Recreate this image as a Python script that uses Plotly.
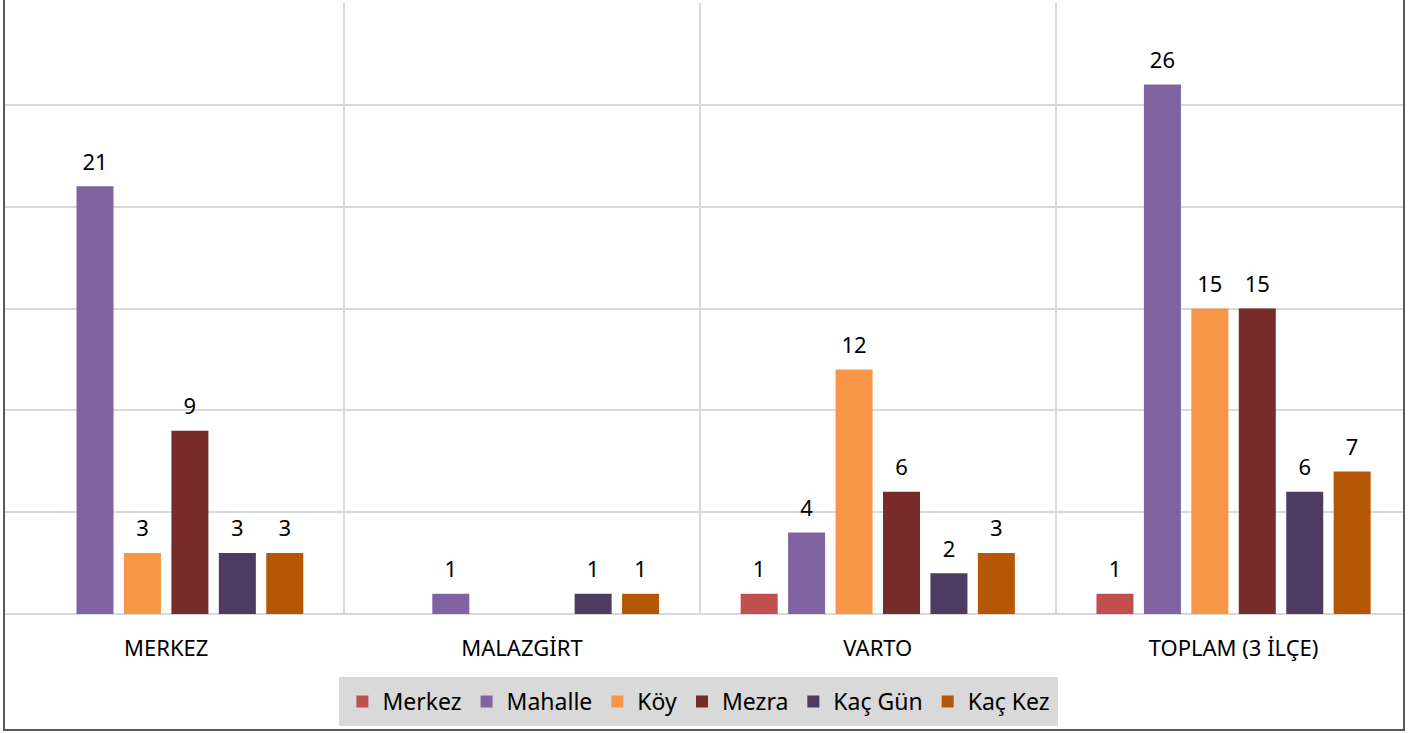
import plotly.graph_objects as go

# kategoriler ve seriler
bolgeler = ['MERKEZ', 'MALAZGİRT', 'VARTO', 'TOPLAM (3 İLÇE)']
seriler = ['Merkez', 'Mahalle', 'Köy', 'Mezra', 'Kaç Gün', 'Kaç Kez']

merkez = [None, None, 1, 1]
mahalle = [21, 1, 4, 26]
koy = [3, None, 12, 15]
mezra = [9, None, 6, 15]
kac_gun = [3, 1, 2, 6]
kac_kez = [3, 1, 3, 7]

renkler = ['#C0504D', '#8064A2', '#F79646', '#772C2A', '#4D3B62', '#B65708']

FONT = 'Noto Sans'
degerler = [merkez, mahalle, koy, mezra, kac_gun, kac_kez]

fig = go.Figure()

for i, (ad, vals, renk) in enumerate(zip(seriler, degerler, renkler)):
    fig.add_trace(go.Bar(
        name=ad, x=bolgeler, y=vals,
        marker=dict(color=renk, line=dict(width=0)),
        offsetgroup=str(i),
        hoverinfo='skip',
    ))

# veri etiketleri (çubukların biraz üstünde)
for i, vals in enumerate(degerler):
    fig.add_trace(go.Scatter(
        x=bolgeler, y=vals,
        mode='markers+text',
        text=['' if v is None else str(v) for v in vals],
        textposition='top center',
        textfont=dict(family=FONT, size=22, color='#000000'),
        marker=dict(size=16, color='rgba(0,0,0,0)'),
        offsetgroup=str(i),
        showlegend=False,
        hoverinfo='skip',
        cliponaxis=False,
    ))

fig.update_layout(
    width=1413, height=733,
    margin=dict(l=5, r=9, t=3, b=119),
    paper_bgcolor='white', plot_bgcolor='white',
    barmode='group', bargap=0.2, bargroupgap=0.22,
    scattermode='group', scattergap=0.2,
    font=dict(family=FONT, color='#000000'),
    showlegend=True,
    legend=dict(
        orientation='h', x=0.496, xanchor='center', y=-0.103, yanchor='top',
        bgcolor='#D9D9D9', bordercolor='#D9D9D9', borderwidth=3,
        font=dict(family=FONT, size=23, color='#000000'),
        traceorder='normal',
    ),
    shapes=[dict(
        type='rect', xref='paper', yref='paper',
        x0=-0.0007, x1=1.0, y0=-0.19, y1=1.03,
        line=dict(color='#595959', width=2),
    )],
)

fig.update_xaxes(
    type='category', tickson='boundaries',
    showgrid=True, gridcolor='#D9D9D9', gridwidth=2,
    range=[-0.453, 3.479],
    ticks='', ticklabelstandoff=19,
    tickfont=dict(family=FONT, size=22, color='#000000'),
    showline=False, zeroline=False,
)
fig.update_yaxes(
    range=[0, 30], dtick=5,
    showgrid=True, gridcolor='#D9D9D9', gridwidth=2,
    zeroline=True, zerolinecolor='#D9D9D9', zerolinewidth=2,
    showticklabels=False, ticks='',
)

# sayfa kenar boşluğunu sıfırla
fig.write_html("out.html", config={'displayModeBar': False},
               post_script="document.body.style.margin='0';")
